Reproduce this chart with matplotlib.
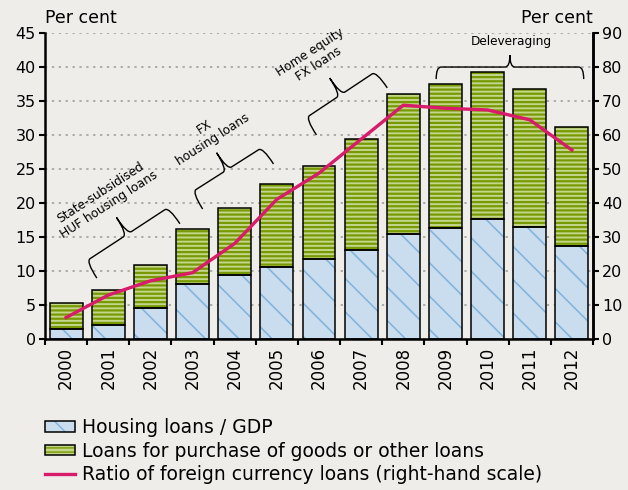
"""Hungarian household loans: housing vs other loans (% of GDP) and FX ratio."""

import numpy as np
import matplotlib

matplotlib.use("Agg")
import matplotlib.pyplot as plt
from matplotlib.path import Path
from matplotlib.patches import Patch, PathPatch
from matplotlib.lines import Line2D

years = ["2000", "2001", "2002", "2003", "2004", "2005", "2006",
         "2007", "2008", "2009", "2010", "2011", "2012"]
housing_loans = [1.35, 2.0, 4.5, 8.1, 9.35, 10.5, 11.7, 13.0, 15.4, 16.3, 17.55, 16.4, 13.65]
other_loans = [3.95, 5.1, 6.3, 8.0, 9.85, 12.2, 13.75, 16.4, 20.6, 21.1, 21.65, 20.3, 17.45]
fx_ratio = [6.2, 12.8, 17.0, 19.4, 28.0, 41.0, 48.7, 58.7, 68.7, 67.8, 67.3, 64.4, 55.5]

BG = "#efedea"
BLUE_FACE, BLUE_HATCH = "#c9ddef", "#7fb1d9"
GREEN_FACE, GREEN_HATCH = "#c4d68c", "#779a00"
PINK = "#d81b6a"

plt.rcParams["font.family"] = "DejaVu Sans"

fig = plt.figure(figsize=(6.28, 4.90), dpi=100, facecolor=BG)
ax = fig.add_axes([0.0717, 0.309, 0.8725, 0.624], facecolor=BG)
x = np.arange(len(years))
w = 0.78

ax.set_xlim(-0.5, len(years) - 0.5)
ax.set_ylim(0, 45)
ax.set_yticks(np.arange(0, 46, 5))
ax.grid(axis="y", color="#9a9a9a", linestyle=(0, (1.5, 3)), linewidth=1.1)
ax.set_axisbelow(True)


def hatched_bars(bottom, height, face, hcol, hatch, hlw):
    with plt.rc_context({"hatch.linewidth": hlw}):
        bars = ax.bar(x, height, w, bottom=bottom, color=face, edgecolor=hcol,
                      hatch=hatch, linewidth=0, zorder=2)
        for b in bars:
            if hasattr(b, "set_hatch_linewidth"):
                b.set_hatch_linewidth(hlw)
    ax.bar(x, height, w, bottom=bottom, fill=False, edgecolor="black",
           linewidth=1.1, zorder=3)


hatched_bars(0, housing_loans, BLUE_FACE, BLUE_HATCH, "\\", 1.1)
hatched_bars(housing_loans, other_loans, GREEN_FACE, GREEN_HATCH, "----", 1.6)

ax.spines["top"].set_visible(False)
for s in ["left", "bottom", "right"]:
    ax.spines[s].set_linewidth(1.8)

ax.set_xticks(x)
ax.set_xticklabels(years, rotation=90, fontsize=12)
ax.set_xticks(np.arange(-0.5, len(years), 1.0), minor=True)
ax.tick_params(axis="x", which="major", length=0, pad=6)
ax.tick_params(axis="x", which="minor", length=4, width=1.5, direction="out")
ax.tick_params(axis="y", labelsize=11.5, length=4, width=1.5, pad=2.5)

ax2 = ax.twinx()
ax2.set_ylim(0, 90)
ax2.set_yticks(np.arange(0, 91, 10))
ax2.plot(x, fx_ratio, color=PINK, linewidth=2.4, zorder=5)
ax2.tick_params(axis="y", labelsize=11.5, length=4, width=1.5, pad=2.5)
for s in ["top", "left", "bottom"]:
    ax2.spines[s].set_visible(False)
ax2.spines["right"].set_linewidth(1.8)

ax.annotate("Per cent", xy=(0, 1), xycoords="axes fraction", xytext=(0, 4),
            textcoords="offset points", ha="left", va="bottom", fontsize=12.5)
ax.annotate("Per cent", xy=(1, 1), xycoords="axes fraction", xytext=(0, 4),
            textcoords="offset points", ha="right", va="bottom", fontsize=12.5)


def brace(p0, p1, hook, tip, r=5):
    # curly brace between two hook ends, opening to the left of p0->p1 (in pixels)
    tr = ax.transData
    a, b = tr.transform(p0), tr.transform(p1)
    d = b - a
    L = np.hypot(*d)
    u = d / L
    v = np.array([-u[1], u[0]])
    h, t = hook, tip
    local = [(0, 0), (0, h), (r, h), (L / 2 - r, h), (L / 2, h), (L / 2, h + t),
             (L / 2, h), (L / 2 + r, h), (L - r, h), (L, h), (L, 0)]
    codes = [Path.MOVETO, Path.CURVE3, Path.CURVE3, Path.LINETO, Path.CURVE3,
             Path.CURVE3, Path.CURVE3, Path.CURVE3, Path.LINETO, Path.CURVE3,
             Path.CURVE3]
    pts = np.array([a + s_ * u + t_ * v for s_, t_ in local])
    pts = tr.inverted().transform(pts)
    ax.add_patch(PathPatch(Path(pts, codes), fill=False, edgecolor="black",
                           linewidth=1.0, zorder=6, clip_on=False))


brace((0.73, 8.9), (2.70, 16.9), 20, 20)
brace((3.24, 19.07), (4.92, 25.7), 20, 20)
brace((5.94, 29.97), (7.62, 36.9), 20, 20)
brace((8.78, 38.2), (12.28, 38.2), 12, 12)

ann = dict(fontsize=8.7, ha="center", va="center", rotation=33,
           rotation_mode="anchor", linespacing=1.15, zorder=6)
ax.text(0.92, 20.6, "State-subsidised\nHUF housing loans", **ann)
ax.text(3.38, 30.2, "FX\nhousing loans", **ann)
ax.text(5.89, 41.3, "Home equity\nFX loans", **ann)
ax.text(10.56, 43.7, "Deleveraging", fontsize=8.7, ha="center", va="center", zorder=6)

h_blue = (Patch(facecolor=BLUE_FACE, edgecolor=BLUE_HATCH, hatch="\\", linewidth=0),
          Patch(fill=False, edgecolor="black", linewidth=1.1))
h_green = (Patch(facecolor=GREEN_FACE, edgecolor=GREEN_HATCH, hatch="----", linewidth=0),
           Patch(fill=False, edgecolor="black", linewidth=1.1))
h_line = Line2D([], [], color=PINK, linewidth=2.4)
fig.legend([h_blue, h_green, h_line],
           ["Housing loans / GDP",
            "Loans for purchase of goods or other loans",
            "Ratio of foreign currency loans (right-hand scale)"],
           loc="upper left", bbox_to_anchor=(0.0717, 0.146), frameon=False,
           fontsize=13.5, handlelength=1.6, handleheight=0.5, handletextpad=0.35,
           labelspacing=0.22, borderaxespad=0, borderpad=0)

fig.savefig("out.png", dpi=100, facecolor=BG)
